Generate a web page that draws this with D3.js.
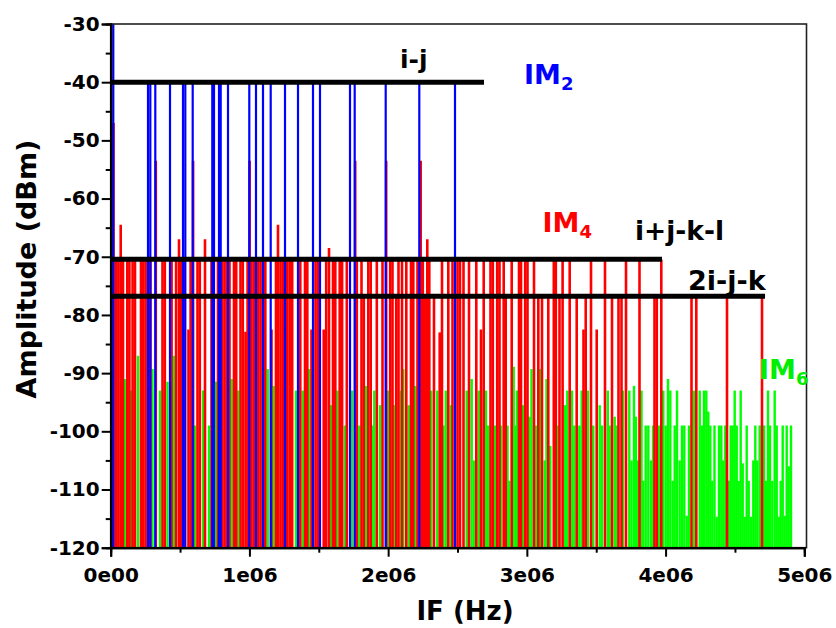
<!DOCTYPE html>
<html><head><meta charset="utf-8">
<script src="https://cdn.jsdelivr.net/npm/d3@7"></script>
<style>
body{margin:0;background:#fff}
svg{display:block}
text{font-family:"DejaVu Sans",sans-serif;font-weight:bold}
</style>
</head><body>
<svg id="chart" width="836" height="628"></svg>
<script>
// ---------- data ----------
const yTickValues = [-30,-40,-50,-60,-70,-80,-90,-100,-110,-120];
const yTickLabels = ["-30","-40","-50","-60","-70","-80","-90","-100","-110","-120"];
const xTickValuesHz = [0,1e6,2e6,3e6,4e6,5e6];
const xTickLabels = ["0e00","1e06","2e06","3e06","4e06","5e06"];

// [frequency (MHz), amplitude (dBm)]
const im2 = [
 [0.0187,-30],[0.2689,-40],[0.2855,-40],[0.3215,-40],[0.4275,-40],[0.5212,-40],[0.5378,-40],
 [0.5911,-40],[0.7324,-40],[0.7447,-40],[0.7807,-40],[0.7930,-40],[0.8456,-40],[0.9991,-40],
 [1.0474,-40],[1.0979,-40],[1.1534,-40],[1.2565,-40],[1.3502,-40],[1.4583,-40],[1.5088,-40],
 [1.7251,-40],[1.7589,-40],[1.9824,-40],[2.2246,-40],[2.4820,-40]
];

const im4 = [
 [0.0202,-47],[0.0382,-70.5],[0.0555,-70.5],[0.0721,-64.5],[0.0887,-70.5],[0.1197,-70.5],[0.1348,-70.5],
 [0.1579,-70.5],[0.1752,-70.5],[0.2184,-70.5],[0.2350,-70.5],[0.2516,-70.5],[0.2682,-70.5],[0.2869,-70.5],
 [0.3251,-53.5],[0.3734,-70.5],[0.3900,-70.5],[0.4296,-70.5],[0.4390,-70.5],[0.4715,-70.5],[0.4924,-67],
 [0.5089,-70.5],[0.5298,-70.5],[0.5608,-82.5],[0.5760,-70.5],[0.5940,-53.5],[0.6257,-70.5],[0.6423,-70.5],
 [0.6798,-67],[0.7266,-70.5],[0.7403,-70.5],[0.7735,-70.5],[0.8045,-70.5],[0.8211,-70.5],[0.8384,-70.5],
 [0.8564,-70.5],[0.8889,-70.5],[0.9047,-70.5],[0.9357,-70.5],[0.9523,-70.5],[0.9718,-82.9],[0.9869,-70.5],
 [1.0013,-53.5],[1.0150,-70.5],[1.0316,-70.5],[1.0640,-70.5],[1.0806,-70.5],[1.1145,-70.5],[1.1592,-82.5],
 [1.1916,-70.5],[1.2060,-64.5],[1.2241,-70.5],[1.2406,-70.5],[1.2731,-70.5],[1.2904,-70.5],[1.3084,-70.5],
 [1.3668,-70.5],[1.4007,-70.5],[1.4173,-70.5],[1.4475,-82.5],[1.4764,-70.5],[1.4929,-70.5],[1.5355,-82.5],
 [1.5535,-70.5],[1.5737,-68.5],[1.6025,-70.5],[1.6191,-70.5],[1.6508,-70.5],[1.6681,-70.5],[1.7020,-70.5],
 [1.7626,-53.5],[1.7741,-70.5],[1.8080,-70.5],[1.8246,-76.8],[1.8570,-70.5],[1.8743,-70.5],[1.9183,-70.5],
 [1.9594,-70.5],[1.9860,-53.5],[2.0149,-70.5],[2.0314,-70.5],[2.0581,-76.8],[2.0747,-70.5],[2.0999,-70.5],
 [2.1309,-70.5],[2.1648,-70.5],[2.1814,-70.5],[2.2117,-70.5],[2.2347,-53.5],[2.2499,-70.5],[2.2664,-76.8],
 [2.2823,-67],[2.2967,-70.5],[2.3306,-76.8],[2.3717,-83],[2.3883,-70.5],[2.4337,-70.5],[2.4640,-70.5],
 [2.5000,-70.5],[2.5180,-70.5],[2.5433,-70.5],[2.5829,-70.5],[2.6355,-70.5],[2.6694,-82.5],[2.6889,-70.5],
 [2.7379,-70.5],[2.7545,-70.5],[2.7862,-70.5],[2.8028,-70.5],[2.8331,-70.5],[2.8475,-76.8],[2.8907,-70.5],
 [2.9434,-70.5],[2.9578,-70.5],[2.9880,-70.5],[3.0046,-70.5],[3.0515,-70.5],[3.0825,-76.8],[3.1091,-76.8],
 [3.1546,-76.8],[3.1942,-70.5],[3.2087,-70.5],[3.2353,-76.8],[3.2577,-70.5],[3.3088,-70.5],[3.3593,-76.8],
 [3.4083,-82.5],[3.4242,-76.8],[3.4624,-70.5],[3.5035,-82.5],[3.5633,-70.5],[3.6138,-76.8],[3.6606,-76.8],
 [3.6823,-76.8],[3.7147,-70.5],[3.8120,-70.5],[3.9201,-76.8],[3.9367,-76.8],[3.9692,-70.5],[4.1869,-76.8],
 [4.2215,-76.8],[4.4428,-76.8],[4.6951,-76.8]
];

const im6 = [
 [0.1031,-91],[0.1463,-93],[0.1968,-87],[0.3013,-89.3],[0.3554,-93],[0.4095,-91.5],[0.4549,-87],
 [0.6077,-99],[0.6654,-93],[0.7086,-99],[0.7605,-91.5],[0.8723,-91],[0.9198,-93],[1.1318,-89.3],
 [1.1750,-92.2],[1.3358,-93],[1.3841,-93],[1.4317,-89.3],[1.5867,-95.5],[1.6350,-93],[1.6869,-99],
 [1.7395,-93],[1.7921,-99],[1.8404,-92.2],[1.8858,-99],[1.9003,-93],[1.9413,-95.5],[1.9990,-93],
 [2.0437,-95.5],[2.0913,-93],[2.1093,-89.3],[2.1482,-95.5],[2.1958,-92.2],[2.3111,-93],[2.3544,-93],
 [2.3991,-99],[2.4157,-93],[2.4517,-95.5],[2.5663,-93],[2.6024,-91],[2.6204,-105],[2.6528,-93],
 [2.7055,-93],[2.7213,-99],[2.7704,-99],[2.8136,-99],[2.8605,-99],[2.8734,-108.5],[2.9051,-88.9],
 [2.9181,-99],[2.9289,-93],[2.9722,-95.5],[3.0190,-97.5],[3.0335,-89.3],[3.0681,-99],[3.0947,-89.3],
 [3.1286,-105],[3.1416,-91],[3.1690,-102.5],[3.2223,-99],[3.2750,-95.5],[3.2915,-93],[3.3254,-93],
 [3.3420,-99],[3.3781,-99],[3.3953,-93],[3.4393,-93],[3.4790,-99],[3.5251,-95.5],[3.5417,-99],
 [3.5835,-93],[3.5965,-99],[3.6332,-97.5],[3.6462,-99],[3.6931,-93],[3.7385,-93],[3.7544,-105],
 [3.7724,-92.2],[3.7868,-97.5],[3.7990,-105],[3.8264,-93],[3.8394,-108.5],[3.8567,-99],[3.8755,-99],
 [3.8949,-105],[3.9094,-99],[3.9526,-99],[3.9836,-93],[4.0009,-99],[4.0175,-91],[4.0340,-93],
 [4.0513,-108.5],[4.0658,-99],[4.0824,-93],[4.1018,-105],[4.1184,-99],[4.1350,-99],[4.1523,-114.5],
 [4.1689,-99],[4.2049,-93],[4.2460,-93],[4.2626,-99],[4.2770,-93],[4.2936,-93],[4.3080,-96.6],
 [4.3224,-99],[4.3368,-108.5],[4.3527,-99],[4.3685,-114.7],[4.3851,-99],[4.4017,-99],[4.4161,-105],
 [4.4305,-99],[4.4550,-108.5],[4.4695,-99],[4.4839,-99],[4.4983,-93],[4.5127,-99],[4.5271,-108.5],
 [4.5415,-93],[4.5560,-105.5],[4.5704,-114.7],[4.5848,-99],[4.5992,-108.5],[4.6158,-114.7],[4.6324,-105],
 [4.6468,-99],[4.6612,-105],[4.6785,-99],[4.7095,-99],[4.7239,-108.5],[4.7384,-93],[4.7528,-99],
 [4.7694,-108.5],[4.7866,-93],[4.8011,-99],[4.8155,-114.7],[4.8299,-108.5],[4.8443,-99],[4.8587,-114.5],
 [4.8731,-99],[4.8876,-106],[4.9041,-99]
];

// reference level lines: [label, level dBm, end frequency MHz]
const refLines = [["i-j",-40,2.691],["i+j-k-l",-70.44,3.974],["2i-j-k",-76.8,4.717]];

// ---------- drawing ----------
const svg = d3.select("#chart");
const L = 110.7, R = 804.3, T = 24, B = 547.7;
const x = d3.scaleLinear().domain([0,5e6]).range([L,R]);
const y = d3.scaleLinear().domain([-120,-30]).range([B,T]);

svg.append("defs").append("clipPath").attr("id","clip")
  .append("rect").attr("x",L).attr("y",T).attr("width",R-L+2).attr("height",B-T);

const plot = svg.append("g").attr("clip-path","url(#clip)");

function stems(data, color, w){
  plot.append("g").selectAll("line").data(data).join("line")
    .attr("x1", d=>x(d[0]*1e6)).attr("x2", d=>x(d[0]*1e6))
    .attr("y1", y(-120)).attr("y2", d=>y(d[1]))
    .attr("stroke", color).attr("stroke-width", w);
}
stems(im6, "#00ff00", 2.4);
stems(im4, "#ff0000", 2.6);
stems(im2, "#0000ff", 2.2);

plot.append("g").selectAll("line").data(refLines).join("line")
  .attr("x1", x(0)).attr("x2", d=>x(d[2]*1e6))
  .attr("y1", d=>y(d[1])).attr("y2", d=>y(d[1]))
  .attr("stroke","#000").attr("stroke-width",5);

// frame
svg.append("rect").attr("x",L).attr("y",T).attr("width",806.5-L).attr("height",B-T)
  .attr("fill","none").attr("stroke","#222").attr("stroke-width",1.6);

// axes
const yAxis = d3.axisLeft(y).tickValues(yTickValues).tickSize(9).tickPadding(2)
  .tickFormat((d,i)=>yTickLabels[i]);
const yMinor = d3.axisLeft(y).tickValues(d3.range(-115,-30,10)).tickSize(5).tickFormat("");
const xAxis = d3.axisBottom(x).tickValues(xTickValuesHz).tickSize(9).tickPadding(11)
  .tickFormat((d,i)=>xTickLabels[i]);
const xMinor = d3.axisBottom(x).tickValues([0.5e6,1.5e6,2.5e6,3.5e6,4.5e6]).tickSize(5).tickFormat("");

function styleAxis(g){
  g.select(".domain").attr("stroke","#000").attr("stroke-width",2);
  g.selectAll(".tick line").attr("stroke","#000").attr("stroke-width",2);
  g.selectAll("text").attr("fill","#000").style("font-size","20px")
    .style("font-family","'DejaVu Sans',sans-serif").style("font-weight","bold");
}
svg.append("g").attr("transform",`translate(${L},0)`).call(yAxis).call(styleAxis);
svg.append("g").attr("transform",`translate(${L},0)`).call(yMinor).call(styleAxis);
svg.append("g").attr("transform",`translate(0,${B})`).call(xAxis).call(styleAxis);
svg.append("g").attr("transform",`translate(0,${B})`).call(xMinor).call(styleAxis);

// axis titles
svg.append("text").attr("x",465).attr("y",620).attr("text-anchor","middle")
  .style("font-size","26px").text("IF (Hz)");
svg.append("text").attr("transform","translate(36,269) rotate(-90)").attr("text-anchor","middle")
  .style("font-size","27px").text("Amplitude (dBm)");

// labels
const lbl = svg.append("g");
lbl.append("text").attr("x",400).attr("y",68).style("font-size","25px").text("i-j");
lbl.append("text").attr("x",635).attr("y",240).style("font-size","26.5px").text("i+j-k-l");
lbl.append("text").attr("x",688).attr("y",290).style("font-size","27px").text("2i-j-k");

function imLabel(xp, yp, sub, color){
  const t = lbl.append("text").attr("x",xp).attr("y",yp).attr("fill",color).style("font-size","27px");
  t.append("tspan").text("IM");
  t.append("tspan").attr("dy",6).style("font-size","18px").text(sub);
}
imLabel(524, 83.5, "2", "#0000ff");
imLabel(542.5, 232, "4", "#ff0000");
imLabel(759, 378.5, "6", "#00ee00");
</script>
</body></html>
